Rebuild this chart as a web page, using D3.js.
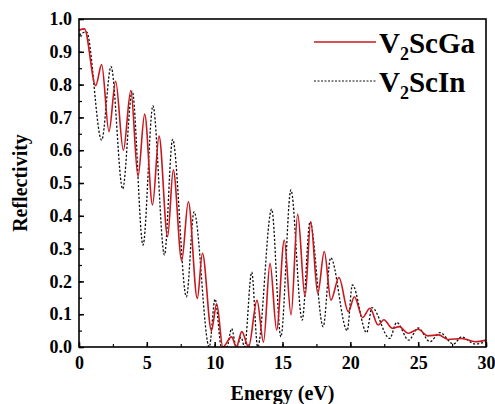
<!DOCTYPE html>
<html>
<head>
<meta charset="utf-8">
<script src="https://cdn.jsdelivr.net/npm/d3@7"></script>
<style>
  html, body { margin: 0; padding: 0; background: #fff; }
  svg { display: block; }
  text { font-family: "Liberation Serif", "Times New Roman", serif; font-weight: bold; }
</style>
</head>
<body>
<div id="chart"></div>
<script>
// Reflectivity spectra (extrema, energy in eV)
const gaEnergy = [0, 0.4, 1.23, 1.67, 2.21, 2.7, 3.27, 3.82, 4.35, 4.84, 5.42, 5.9, 6.53, 6.95, 7.57, 8.06,
    8.72, 9.1, 9.76, 10.15, 10.6, 11.25, 11.6, 12.0, 12.5, 13.12, 13.6, 14.08, 14.57, 15.13, 15.63, 16.12,
    16.66, 17.08, 17.6, 18.08, 18.57, 19.16, 19.85, 20.3, 20.9, 21.45, 22.05, 22.47, 23.1, 23.6, 24.27,
    25.0, 25.7, 26.5, 27.2, 28.2, 29.2, 30];
const gaReflect = [0.966, 0.97, 0.797, 0.861, 0.657, 0.81, 0.60, 0.782, 0.52, 0.71, 0.433, 0.643, 0.336, 0.54,
    0.263, 0.443, 0.148, 0.286, 0.05, 0.132, 0, 0.031, 0, 0.047, 0, 0.142, 0.015, 0.255, 0.052, 0.326,
    0.098, 0.405, 0.153, 0.382, 0.163, 0.291, 0.143, 0.212, 0.108, 0.153, 0.09, 0.118, 0.067, 0.083,
    0.057, 0.062, 0.042, 0.054, 0.034, 0.037, 0.023, 0.026, 0.016, 0.021];

const inEnergy = [0, 0.55, 1.67, 2.36, 3.22, 3.92, 4.72, 5.45, 6.3, 6.9, 7.92, 8.48, 9.6, 10.03, 10.5, 10.9,
    11.25, 11.6, 11.95, 12.2, 12.73, 13.17, 14.2, 14.88, 15.62, 16.45, 17.03, 18.0, 18.55, 19.77, 20.15,
    21.2, 21.6, 22.9, 23.42, 24.3, 25.0, 25.87, 26.6, 27.6, 28.2, 29.2, 30];
const inReflect = [0.951, 0.961, 0.631, 0.855, 0.482, 0.78, 0.311, 0.735, 0.281, 0.633, 0.153, 0.412, 0.0,
    0.146, 0, 0, 0.056, 0, 0.03, 0, 0.228, 0, 0.42, 0.031, 0.479, 0.082, 0.382, 0.062, 0.272, 0.05, 0.189,
    0.044, 0.12, 0.026, 0.075, 0.021, 0.058, 0.016, 0.044, 0.009, 0.031, 0.009, 0.016];

const xTicks = [0, 5, 10, 15, 20, 25, 30];
const yTicks = [0, 0.1, 0.2, 0.3, 0.4, 0.5, 0.6, 0.7, 0.8, 0.9, 1.0];
const seriesNames = ['ScGa', 'ScIn'];

const width = 495, height = 404;
const margin = { top: 19, right: 9, bottom: 57, left: 79 };

const svg = d3.select('#chart').append('svg')
    .attr('width', width)
    .attr('height', height);

const x = d3.scaleLinear().domain([0, 30]).range([margin.left, width - margin.right]);
const y = d3.scaleLinear().domain([0, 1]).range([height - margin.bottom, margin.top]);

svg.append('clipPath').attr('id', 'plot')
    .append('rect')
    .attr('x', x(0)).attr('y', y(1) - 2)
    .attr('width', x(30) - x(0)).attr('height', y(0) - y(1) + 2);

// minor ticks
svg.append('g')
    .attr('transform', `translate(0,${y(0)})`)
    .call(d3.axisBottom(x).tickValues(d3.range(0, 30.01, 2.5)).tickSizeInner(-3).tickSizeOuter(0).tickFormat(''))
    .call(g => g.select('.domain').remove())
    .call(g => g.selectAll('line').attr('stroke-width', 1.2));
svg.append('g')
    .attr('transform', `translate(${x(0)},0)`)
    .call(d3.axisLeft(y).tickValues(d3.range(0, 1.001, 0.05)).tickSizeInner(-3).tickSizeOuter(0).tickFormat(''))
    .call(g => g.select('.domain').remove())
    .call(g => g.selectAll('line').attr('stroke-width', 1.2));

// major ticks + labels
svg.append('g')
    .attr('transform', `translate(0,${y(0)})`)
    .call(d3.axisBottom(x).tickValues(xTicks).tickSizeInner(-5).tickSizeOuter(0).tickPadding(9).tickFormat(d3.format('d')))
    .call(g => g.select('.domain').remove())
    .call(g => g.selectAll('line').attr('stroke-width', 1.5))
    .call(g => g.selectAll('text').attr('font-size', 18).attr('fill', '#000')
        .attr('font-family', '"Liberation Serif", "Times New Roman", serif'));
svg.append('g')
    .attr('transform', `translate(${x(0)},0)`)
    .call(d3.axisLeft(y).tickValues(yTicks).tickSizeInner(-5).tickSizeOuter(0).tickPadding(7).tickFormat(d3.format('.1f')))
    .call(g => g.select('.domain').remove())
    .call(g => g.selectAll('line').attr('stroke-width', 1.5))
    .call(g => g.selectAll('text').attr('font-size', 18).attr('fill', '#000')
        .attr('font-family', '"Liberation Serif", "Times New Roman", serif'));

const line = d3.line()
    .x(d => x(d[0]))
    .y(d => y(d[1]))
    .curve(d3.curveMonotoneX);

const plot = svg.append('g').attr('clip-path', 'url(#plot)');

plot.append('path')
    .datum(d3.zip(inEnergy, inReflect))
    .attr('d', line)
    .attr('fill', 'none')
    .attr('stroke', '#111')
    .attr('stroke-width', 1.3)
    .attr('stroke-dasharray', '2.2,1.8');

plot.append('path')
    .datum(d3.zip(gaEnergy, gaReflect))
    .attr('d', line)
    .attr('fill', 'none')
    .attr('stroke', '#c8171d')
    .attr('stroke-width', 1.6);

// frame
svg.append('rect')
    .attr('x', x(0)).attr('y', y(1))
    .attr('width', x(30) - x(0)).attr('height', y(0) - y(1))
    .attr('fill', 'none')
    .attr('stroke', '#000')
    .attr('stroke-width', 1.6);

// legend
const legend = svg.append('g');
const legendRows = [
    { name: seriesNames[0], stroke: '#c8171d', dash: null, width: 1.6, y: 42 },
    { name: seriesNames[1], stroke: '#111', dash: '2,1.5', width: 1, y: 81 }
];
legendRows.forEach(r => {
    legend.append('line')
        .attr('x1', 314).attr('x2', 376)
        .attr('y1', r.y).attr('y2', r.y)
        .attr('stroke', r.stroke)
        .attr('stroke-width', r.width)
        .attr('stroke-dasharray', r.dash);
    const t = legend.append('text')
        .attr('x', 379).attr('y', r.y + 11)
        .attr('font-size', 29);
    t.append('tspan').text('V');
    t.append('tspan').attr('font-size', 18).attr('dy', 7).text('2');
    t.append('tspan').attr('dy', -7).text(r.name);
});

// axis titles
svg.append('text')
    .attr('transform', `translate(27,${(y(0) + y(1)) / 2}) rotate(-90)`)
    .attr('text-anchor', 'middle')
    .attr('font-size', 20)
    .text('Reflectivity');

svg.append('text')
    .attr('x', (x(0) + x(30)) / 2)
    .attr('y', 400)
    .attr('text-anchor', 'middle')
    .attr('font-size', 20)
    .text('Energy (eV)');
</script>
</body>
</html>
